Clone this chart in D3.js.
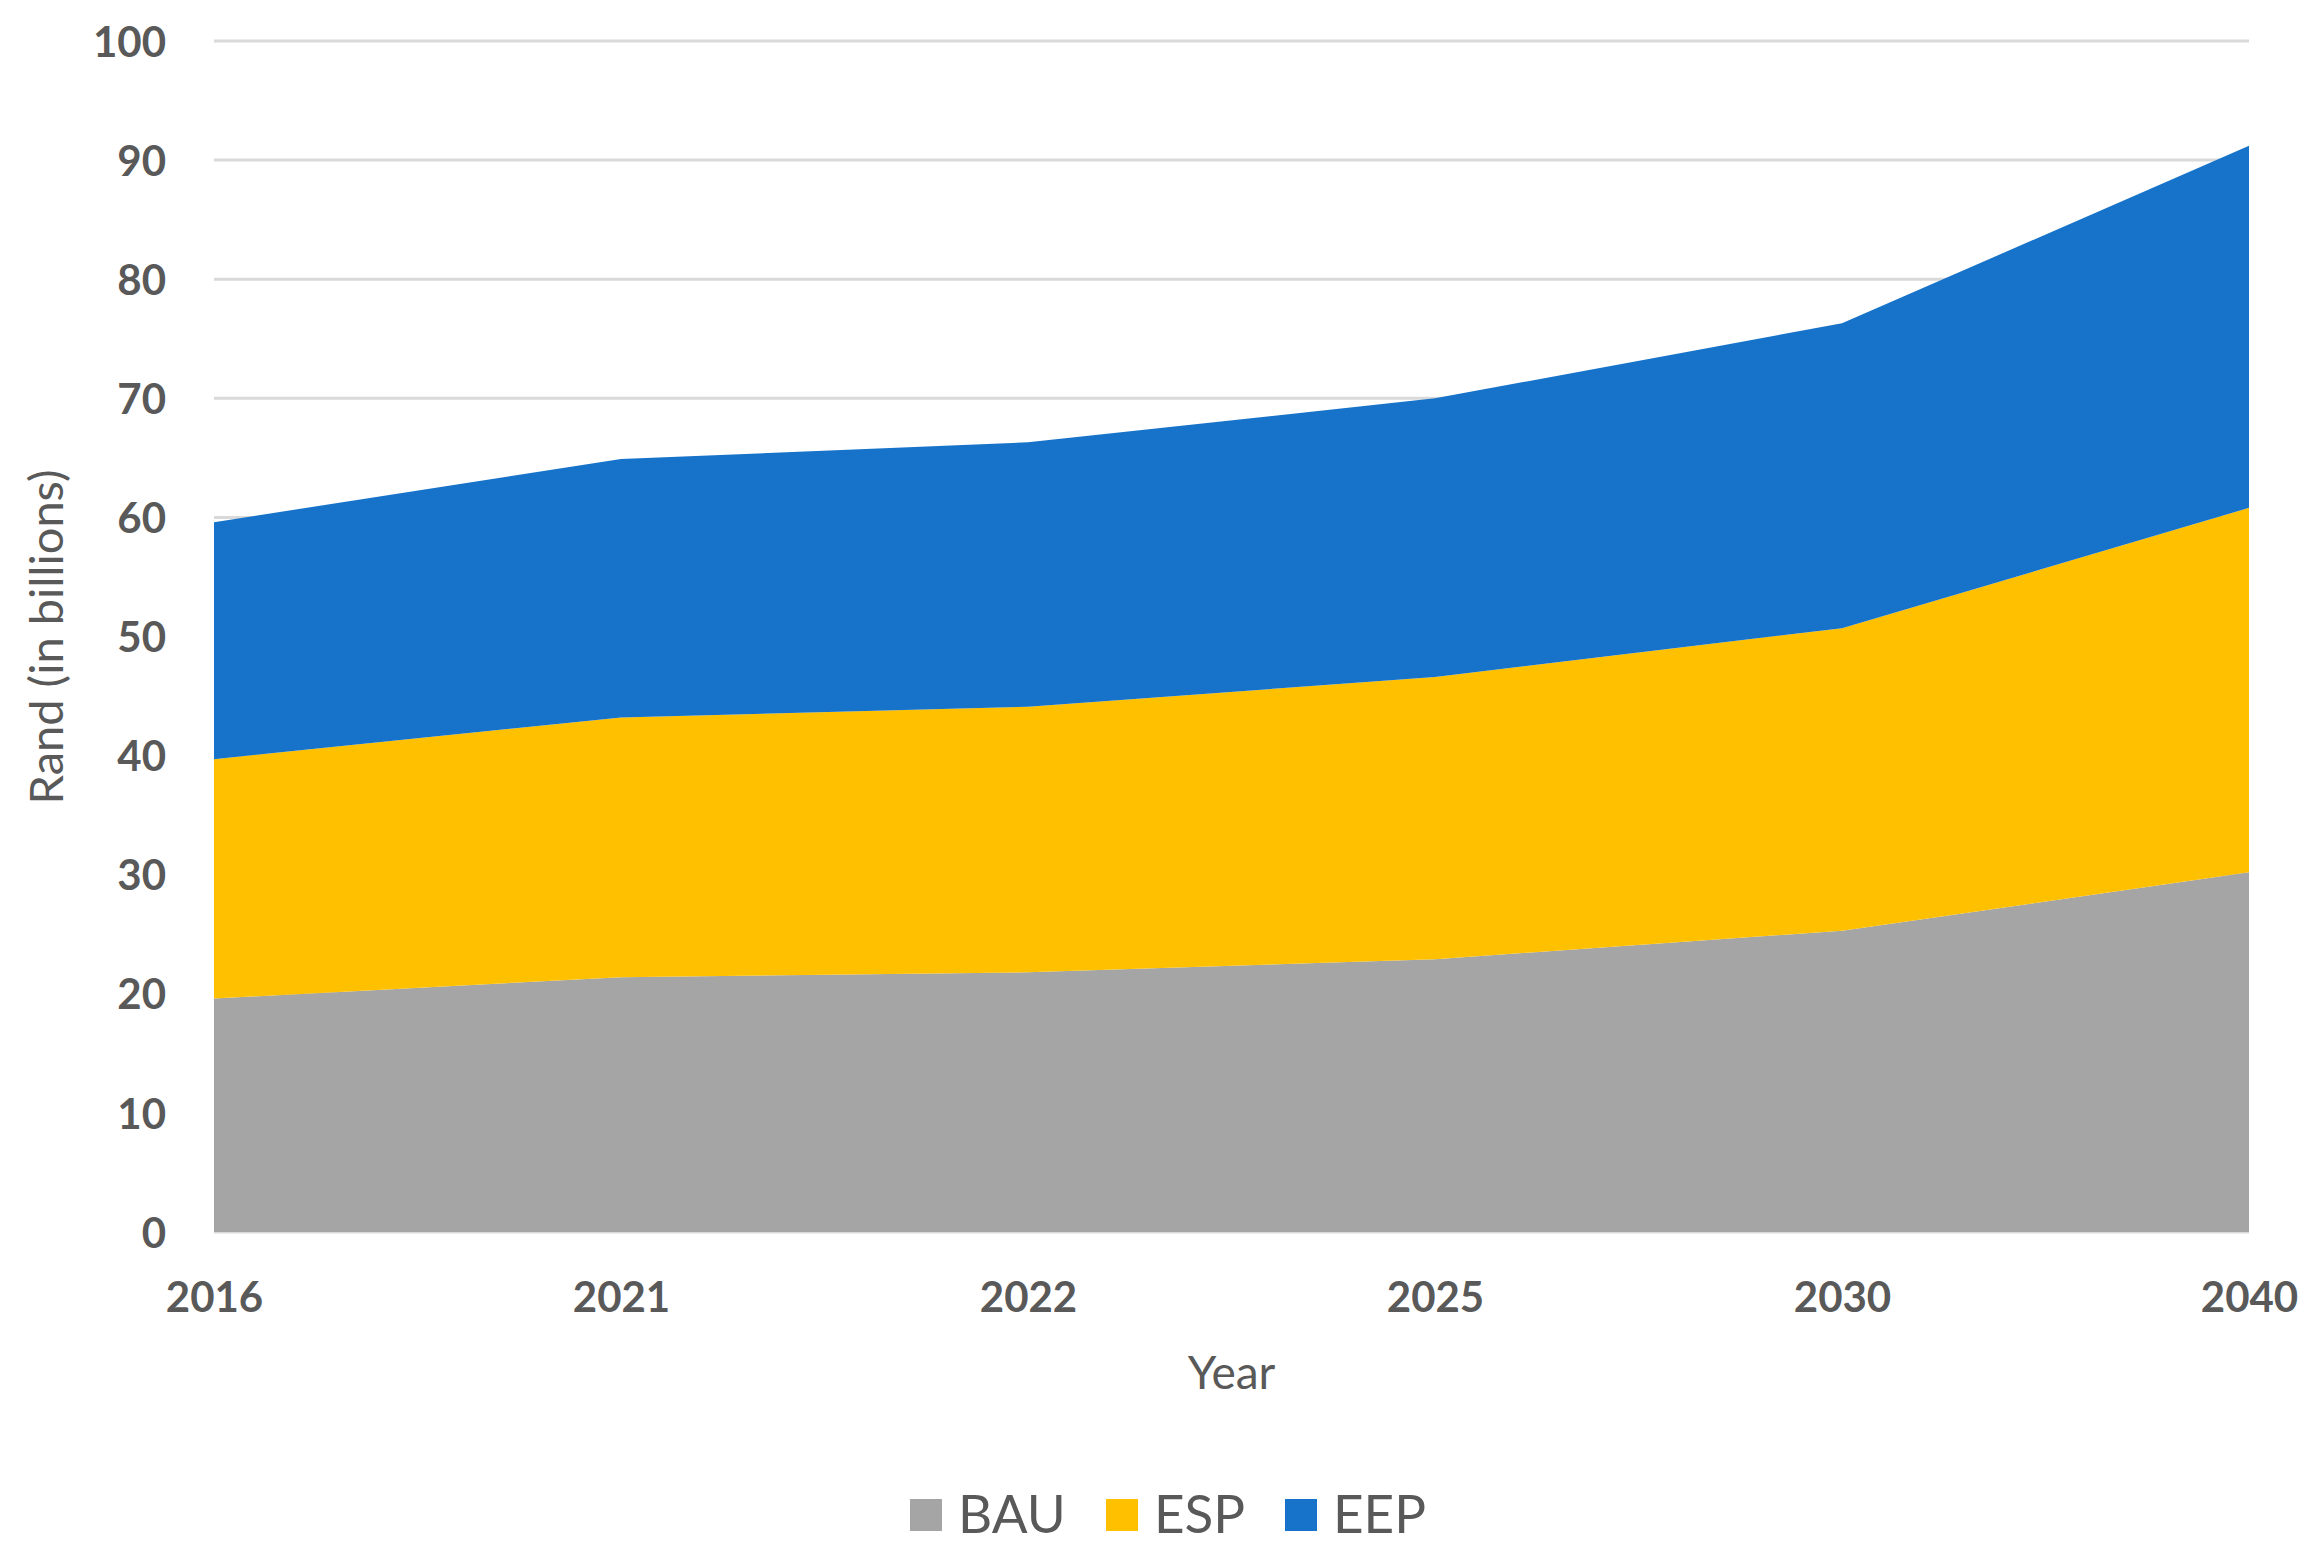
<!DOCTYPE html>
<html>
<head>
<meta charset="utf-8">
<title>Stacked Area</title>
<script src="https://d3js.org/d3.v7.min.js"></script>
<style>
  body { margin: 0; background: #fff; }
  text { font-family: Lato, "Open Sans", sans-serif; fill: #595959; }
</style>
</head>
<body>
<script>
// data
var years = ["2016", "2021", "2022", "2025", "2030", "2040"];
var bau = [19.6, 21.4, 21.8, 22.9, 25.3, 30.2];
var esp = [20.1, 21.8, 22.3, 23.7, 25.4, 30.6];
var eep = [19.9, 21.7, 22.2, 23.4, 25.6, 30.4];
var seriesNames = ["BAU", "ESP", "EEP"];
var yTicks = [0, 10, 20, 30, 40, 50, 60, 70, 80, 90, 100];

var colors = { BAU: "#a5a5a5", ESP: "#ffc000", EEP: "#1773c9" };

var W = 2313, H = 1560;
var margin = { top: 41, right: 64, bottom: 328, left: 214 },
    width = W - margin.left - margin.right,
    height = H - margin.top - margin.bottom;

var rows = years.map(function(y, i) {
    return { year: y, BAU: bau[i], ESP: esp[i], EEP: eep[i] };
});

var x = d3.scalePoint().domain(years).range([0, width]);
var y = d3.scaleLinear().domain([0, 100]).range([height, 0]);

var svg = d3.select("body").append("svg")
    .attr("width", W)
    .attr("height", H);

var g = svg.append("g")
    .attr("transform", "translate(" + margin.left + "," + margin.top + ")");

// grid
g.append("g")
    .selectAll("line")
    .data(yTicks)
    .enter().append("line")
    .attr("x1", 0).attr("x2", width)
    .attr("y1", function(d) { return y(d); })
    .attr("y2", function(d) { return y(d); })
    .attr("stroke", "#d9d9d9")
    .attr("stroke-width", 3);

var stacked = d3.stack().keys(seriesNames)(rows);

var area = d3.area()
    .x(function(d) { return x(d.data.year); })
    .y0(function(d) { return y(d[0]); })
    .y1(function(d) { return y(d[1]); });

g.selectAll(".layer")
    .data(stacked)
    .enter().append("path")
    .attr("class", "layer")
    .attr("d", area)
    .attr("fill", function(d) { return colors[d.key]; });

// y axis
var yAxis = g.append("g")
    .call(d3.axisLeft(y).tickValues(yTicks).tickSize(0).tickPadding(48));
yAxis.select(".domain").remove();
yAxis.selectAll("text")
    .style("font-size", "42px")
    .style("font-weight", "bold")
    .attr("dy", "0.36em");

// x axis
var xAxis = g.append("g")
    .attr("transform", "translate(0," + height + ")")
    .call(d3.axisBottom(x).tickSize(0).tickPadding(50));
xAxis.select(".domain").remove();
xAxis.selectAll("text")
    .style("font-size", "42px")
    .style("font-weight", "bold");

// axis titles
svg.append("text")
    .attr("x", margin.left + width / 2)
    .attr("y", 1389)
    .attr("text-anchor", "middle")
    .style("font-size", "46px")
    .text("Year");

svg.append("text")
    .attr("transform", "translate(63,637) rotate(-90)")
    .attr("text-anchor", "middle")
    .style("font-size", "47px")
    .text("Rand (in billions)");

// legend
var legendX = [910, 1106, 1285];
var legend = svg.append("g");
seriesNames.forEach(function(name, i) {
    legend.append("rect")
        .attr("x", legendX[i])
        .attr("y", 1499)
        .attr("width", 32)
        .attr("height", 32)
        .attr("fill", colors[name]);
    legend.append("text")
        .attr("x", legendX[i] + 48)
        .attr("y", 1533)
        .style("font-size", "53px")
        .text(name);
});
</script>
</body>
</html>
